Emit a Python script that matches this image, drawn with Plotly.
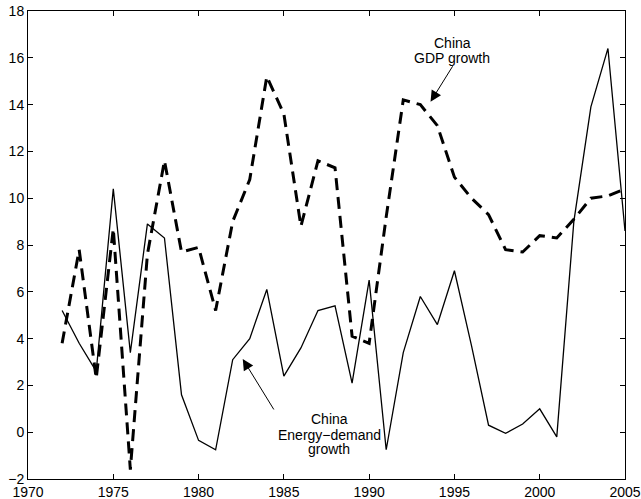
import plotly.graph_objects as go

years = list(range(1972, 2006))

energy_demand_growth = [5.2, 3.8, 2.6, 10.4, 3.4, 8.9, 8.3, 1.6, -0.35, -0.75,
                        3.1, 4.0, 6.1, 2.4, 3.6, 5.2, 5.4, 2.1, 6.5, -0.75,
                        3.4, 5.8, 4.6, 6.9, 3.7, 0.3, -0.05, 0.35, 1.0, -0.2,
                        9.0, 13.9, 16.4, 8.6]

gdp_growth = [3.8, 7.8, 2.3, 8.7, -1.6, 7.6, 11.6, 7.7, 7.9, 5.2,
              9.0, 10.8, 15.2, 13.6, 8.8, 11.6, 11.3, 4.1, 3.8, 9.2,
              14.2, 14.0, 13.1, 10.9, 10.0, 9.3, 7.8, 7.7, 8.4, 8.3,
              9.1, 10.0, 10.1, 10.4]

x_ticks = [1970, 1975, 1980, 1985, 1990, 1995, 2000, 2005]
y_ticks = [-2, 0, 2, 4, 6, 8, 10, 12, 14, 16, 18]

FONT = "Liberation Sans, Arial, Helvetica, sans-serif"

fig = go.Figure()
fig.add_trace(go.Scatter(x=years, y=gdp_growth, mode="lines",
                         line=dict(color="black", width=3, dash="12px,7px"),
                         showlegend=False, hoverinfo="skip"))
fig.add_trace(go.Scatter(x=years, y=energy_demand_growth, mode="lines",
                         line=dict(color="black", width=1.3),
                         showlegend=False, hoverinfo="skip"))

ann = []
# arrows
ann.append(dict(x=1993.6, y=14.12, xref="x", yref="y", text="", showarrow=True,
                ax=23, ay=-37, arrowhead=2, arrowsize=2.2, arrowwidth=1,
                arrowcolor="black", standoff=0))
ann.append(dict(x=1982.59, y=3.13, xref="x", yref="y", text="", showarrow=True,
                ax=32, ay=52, arrowhead=2, arrowsize=2.2, arrowwidth=1,
                arrowcolor="black", standoff=0))
# labels
for txt, xx, yy in [("China", 1994.86, 16.62), ("GDP growth", 1994.86, 15.98),
                    ("China", 1987.65, 0.55), ("Energy\u2212demand", 1987.65, -0.10),
                    ("growth", 1987.65, -0.72)]:
    ann.append(dict(x=xx, y=yy, xref="x", yref="y", text=txt, showarrow=False,
                    xanchor="center", yanchor="middle",
                    font=dict(family=FONT, size=14, color="black")))

fig.update_layout(
    width=641, height=499,
    margin=dict(l=28, r=16, t=11, b=20),
    paper_bgcolor="white", plot_bgcolor="white",
    font=dict(family=FONT, size=14, color="black"),
    annotations=ann,
    hovermode=False,
    xaxis=dict(range=[1970, 2005], tickvals=x_ticks, ticks="inside", ticklen=5,
               tickcolor="black", showline=True, linecolor="black", linewidth=1,
               mirror="ticks", showgrid=False, zeroline=False, automargin=False,
               ticklabeloverflow="allow",
               tickfont=dict(family=FONT, size=14, color="black")),
    yaxis=dict(range=[-2, 18], tickvals=y_ticks, ticks="inside", ticklen=5,
               tickcolor="black", showline=True, linecolor="black", linewidth=1,
               mirror="ticks", showgrid=False, zeroline=False, automargin=False,
               ticklabeloverflow="allow",
               tickfont=dict(family=FONT, size=14, color="black")),
)

fig.write_html("out.html",
               config={"displayModeBar": False},
               post_script="document.body.style.margin='0px';"
                           "document.body.style.overflow='hidden';")
